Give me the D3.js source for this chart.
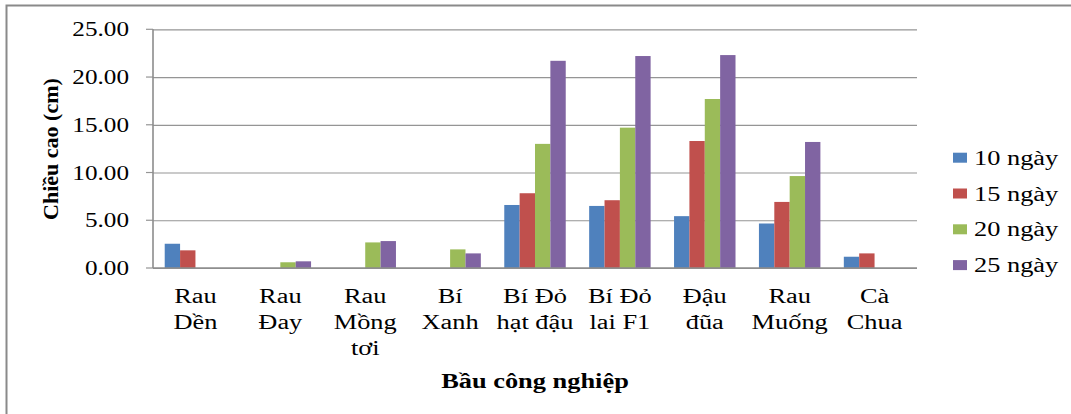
<!DOCTYPE html>
<html>
<head>
<meta charset="utf-8">
<script src="https://cdn.jsdelivr.net/npm/d3@7"></script>
<style>
  html, body { margin: 0; padding: 0; background: #fff; }
  svg { display: block; }
  text { font-family: "Liberation Serif", "Times New Roman", serif; fill: #000; }
</style>
</head>
<body>
<svg id="chart" width="1071" height="414"></svg>
<script>
// Plant height by substrate and crop
const categories = [
  ["Rau", "Dền"], ["Rau", "Đay"], ["Rau", "Mồng", "tơi"], ["Bí", "Xanh"],
  ["Bí Đỏ", "hạt đậu"], ["Bí Đỏ", "lai F1"], ["Đậu", "đũa"], ["Rau", "Muống"], ["Cà", "Chua"]
];
const seriesNames = ["10 ngày", "15 ngày", "20 ngày", "25 ngày"];
const day10 = [2.54, 0, 0, 0, 6.60, 6.50, 5.43, 4.66, 1.18];
const day15 = [1.85, 0, 0, 0, 7.83, 7.10, 13.30, 6.92, 1.53];
const day20 = [0, 0.60, 2.68, 1.95, 13.00, 14.70, 17.70, 9.63, 0];
const day25 = [0, 0.70, 2.82, 1.53, 21.70, 22.20, 22.30, 13.20, 0];
const yTicks = [0, 5, 10, 15, 20, 25];
const colors = ["#4F81BD", "#C0504D", "#9BBB59", "#8064A2"];
const xTitle = "Bầu công nghiệp";
const yTitle = "Chiều cao (cm)";

const seriesValues = [day10, day15, day20, day25];
const catKeys = categories.map(c => c.join(" "));

const svg = d3.select("#chart");
const plot = { left: 153, right: 917, top: 29.3, bottom: 268 };
const SX = 1.32; // horizontal widening applied to the serif labels

// outer frame (left and top edges)
svg.append("path")
  .attr("d", "M6.5,414 V5.5 H1071")
  .attr("fill", "none").attr("stroke", "#8a8a8a").attr("stroke-width", 2);

const x0 = d3.scaleBand().domain(catKeys).range([plot.left, plot.right])
  .paddingInner(0.276).paddingOuter(0.138);
const x1 = d3.scaleBand().domain(seriesNames).range([0, x0.bandwidth()]);
const y = d3.scaleLinear().domain([0, 25]).range([plot.bottom, plot.top]);

// gridlines with small outward ticks
const grid = svg.append("g")
  .attr("transform", `translate(${plot.left},0)`)
  .call(d3.axisLeft(y).tickValues(yTicks).tickSize(-(plot.right - plot.left)).tickFormat(""));
grid.select(".domain").remove();
grid.selectAll(".tick line").attr("stroke", "#959595").attr("stroke-width", 1.2);
svg.append("g").selectAll("line").data(yTicks).join("line")
  .attr("x1", plot.left - 7).attr("x2", plot.left)
  .attr("y1", d => y(d)).attr("y2", d => y(d))
  .attr("stroke", "#959595").attr("stroke-width", 1.2);

// tick labels
svg.append("g").selectAll("text").data(yTicks).join("text")
  .attr("transform", d => `translate(129,${y(d) + 7}) scale(1.2,1)`)
  .attr("text-anchor", "end")
  .style("font-size", "21px")
  .text(d => d3.format(".2f")(d));

// bars
const rows = [];
seriesValues.forEach((vals, si) => vals.forEach((v, ci) => {
  if (v > 0) rows.push({ cat: catKeys[ci], s: seriesNames[si], v, si });
}));
svg.append("g").selectAll("rect").data(rows).join("rect")
  .attr("x", d => x0(d.cat) + x1(d.s))
  .attr("width", x1.bandwidth())
  .attr("y", d => y(d.v))
  .attr("height", d => y(0) - y(d.v))
  .attr("fill", d => colors[d.si]);

// axis lines
svg.append("line")
  .attr("x1", plot.left).attr("x2", plot.left)
  .attr("y1", plot.top).attr("y2", plot.bottom)
  .attr("stroke", "#8c8c8c").attr("stroke-width", 1.6);
svg.append("line")
  .attr("x1", plot.left).attr("x2", plot.right)
  .attr("y1", plot.bottom).attr("y2", plot.bottom)
  .attr("stroke", "#8c8c8c").attr("stroke-width", 1.6);

// category labels
const catG = svg.append("g").selectAll("g").data(categories).join("g")
  .attr("transform", (d, i) => `translate(${x0(catKeys[i]) + x0.bandwidth() / 2},303) scale(${SX},1)`);
catG.each(function (lines) {
  const t = d3.select(this).append("text").attr("text-anchor", "middle").style("font-size", "20px");
  lines.forEach((ln, k) => t.append("tspan").attr("x", 0).attr("y", k * 26).text(ln));
});

// axis titles
svg.append("text")
  .attr("transform", `translate(535,388) scale(${SX},1)`)
  .attr("text-anchor", "middle")
  .style("font-size", "20px").style("font-weight", "bold")
  .text(xTitle);
svg.append("text")
  .attr("transform", "translate(58,149) rotate(-90)")
  .attr("text-anchor", "middle")
  .style("font-size", "22px").style("font-weight", "bold")
  .text(yTitle);

// legend
const leg = svg.append("g").selectAll("g").data(seriesNames).join("g")
  .attr("transform", (d, i) => `translate(953,${157.7 + i * 35.8})`);
leg.append("rect").attr("x", 0).attr("y", -5).attr("width", 14).attr("height", 10)
  .attr("fill", (d, i) => colors[i]);
leg.append("text")
  .attr("transform", `translate(21,7) scale(${SX},1)`)
  .style("font-size", "20px")
  .text(d => d);
</script>
</body>
</html>
